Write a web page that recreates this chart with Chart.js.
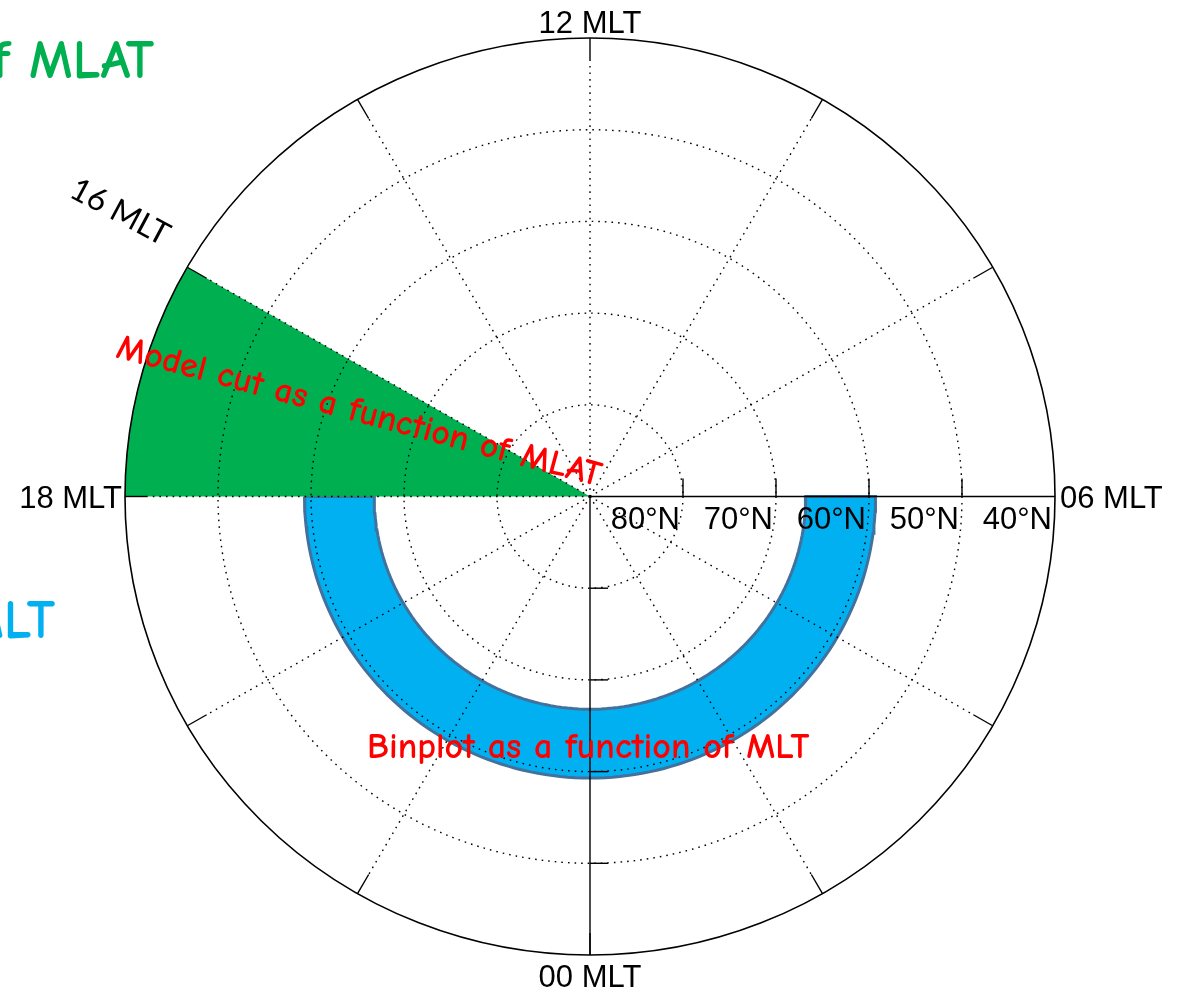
<!DOCTYPE html>
<html>
<head>
<meta charset="utf-8">
<script src="https://cdn.jsdelivr.net/npm/chart.js@4.4.1/dist/chart.umd.min.js"></script>
<style>
  html, body { margin: 0; background: #fff; }
  canvas { display: block; }
</style>
</head>
<body>
<canvas id="polar-chart" width="1182" height="994"></canvas>
<script>
// MLT / MLAT grid
const latRings = [80, 70, 60, 50, 40];
const latLabels = ['80°N', '70°N', '60°N', '50°N', '40°N'];
const spokeHours = [0, 2, 4, 8, 10, 12, 14, 16, 18, 20, 22];
const axisHours = [6, 0];   // solid axes carrying the latitude ticks

// green sector: model cut at 16-18 MLT, pole to 40N
const modelCutMLT = [16, 18];
const modelCutLat = [40, 90];
// blue band: binplot from 18 MLT through midnight to 06 MLT
const binplotMLT = [18, 30];
const binplotLat = [59.3, 66.8];

const outerColat = 90 - latRings[latRings.length - 1];
const sans = '"Liberation Sans", Arial, Helvetica, sans-serif';
const comic = '"Comic Sans MS", "Comic Neue", Lato, sans-serif';

// mlt 06 points right, 12 up
function toXY(mlt, lat) {
  const a = (mlt - 6) * Math.PI / 12;
  const r = 90 - lat;
  return { x: r * Math.cos(a), y: r * Math.sin(a) };
}

// closed outline of an MLT x MLAT sector, arcs sampled along MLT
function sectorOutline(mlts, lats) {
  const pts = [];
  const steps = 120;
  for (let i = 0; i <= steps; i++) {
    pts.push(toXY(mlts[0] + (mlts[1] - mlts[0]) * i / steps, lats[0]));
  }
  if (lats[1] >= 90) {
    pts.push({ x: 0, y: 0 });
  } else {
    for (let i = steps; i >= 0; i--) {
      pts.push(toXY(mlts[0] + (mlts[1] - mlts[0]) * i / steps, lats[1]));
    }
  }
  pts.push(pts[0]);
  return pts;
}

function fitFont(ctx, text, width, family, weight) {
  const w8 = weight ? weight + ' ' : '';
  ctx.font = w8 + '100px ' + family;
  const w = ctx.measureText(text).width;
  return w8 + (100 * width / w).toFixed(1) + 'px ' + family;
}

const polarGrid = {
  id: 'polarGrid',
  afterDatasetsDraw(chart) {
    const ctx = chart.ctx;
    const xs = chart.scales.x, ys = chart.scales.y;
    const P = (mlt, colat) => {
      const a = (mlt - 6) * Math.PI / 12;
      return [xs.getPixelForValue(colat * Math.cos(a)), ys.getPixelForValue(colat * Math.sin(a))];
    };
    const cx = xs.getPixelForValue(0), cy = ys.getPixelForValue(0);
    const rx = c => xs.getPixelForValue(c) - cx;
    const ry = c => cy - ys.getPixelForValue(c);
    const seg = (a, b) => { ctx.beginPath(); ctx.moveTo(a[0], a[1]); ctx.lineTo(b[0], b[1]); ctx.stroke(); };

    ctx.save();
    ctx.strokeStyle = '#000';

    // dotted latitude circles
    ctx.lineWidth = 1.4;
    ctx.setLineDash([1.6, 5]);
    latRings.slice(0, -1).forEach(lat => {
      const c = 90 - lat;
      ctx.beginPath();
      ctx.ellipse(cx, cy, rx(c), ry(c), 0, 0, Math.PI * 2);
      ctx.stroke();
    });

    // dotted MLT spokes, solid stub at the rim
    const stub = 2.4;
    spokeHours.forEach(h => {
      ctx.setLineDash([1.6, 5]);
      if (h !== 0) seg(P(h, 0), P(h, outerColat - stub));
      ctx.setLineDash([]);
      seg(P(h, outerColat - stub), P(h, outerColat));
    });

    // solid axes with latitude ticks
    ctx.setLineDash([]);
    ctx.lineWidth = 1.4;
    axisHours.forEach(h => {
      seg(P(h, 0), P(h, outerColat));
      latRings.slice(0, -1).forEach(lat => {
        const [px, py] = P(h, 90 - lat);
        if (h === 6) seg([px, py], [px, py - 18]);
        else seg([px, py], [px + 18, py]);
      });
    });

    // rim
    ctx.lineWidth = 1.6;
    ctx.beginPath();
    ctx.ellipse(cx, cy, rx(outerColat), ry(outerColat), 0, 0, Math.PI * 2);
    ctx.stroke();
    ctx.restore();
  },
  afterDraw(chart) {
    const ctx = chart.ctx;
    const xs = chart.scales.x, ys = chart.scales.y;
    const cx = xs.getPixelForValue(0), cy = ys.getPixelForValue(0);
    const top = ys.getPixelForValue(outerColat), bottom = ys.getPixelForValue(-outerColat);
    const left = xs.getPixelForValue(-outerColat), right = xs.getPixelForValue(outerColat);

    ctx.save();
    ctx.fillStyle = '#000';
    ctx.font = '31px ' + sans;
    ctx.textBaseline = 'alphabetic';
    ctx.textAlign = 'center';
    ctx.fillText('12 MLT', cx, top - 5);
    ctx.fillText('00 MLT', cx, bottom + 32);
    ctx.textAlign = 'left';
    ctx.fillText('06 MLT', right + 5, cy + 11);
    ctx.textAlign = 'right';
    ctx.fillText('18 MLT', left - 3, cy + 11);

    // latitude labels along the 06 MLT axis
    latRings.forEach((lat, i) => {
      ctx.fillText(latLabels[i], xs.getPixelForValue(90 - lat) - 3, cy + 32);
    });

    // 16 MLT label, set along its spoke
    ctx.save();
    ctx.translate(120, 212);
    ctx.rotate(28 * Math.PI / 180);
    ctx.textAlign = 'center';
    ctx.textBaseline = 'middle';
    ctx.font = '32px Lato, "Open Sans", sans-serif';
    ctx.fillText('16 MLT', 0, 0);
    ctx.restore();

    // annotations
    ctx.fillStyle = '#FF0000';
    const t1 = 'Binplot as a function of MLT';
    ctx.font = fitFont(ctx, t1, 442, comic, 'bold');
    ctx.textAlign = 'left';
    ctx.fillText(t1, 367, 758);

    const t2 = 'Model cut as a function of MLAT';
    ctx.save();
    ctx.translate(359, 412);
    ctx.rotate(15 * Math.PI / 180);
    ctx.font = fitFont(ctx, t2, 500, comic, 'bold');
    ctx.textAlign = 'center';
    ctx.textBaseline = 'middle';
    ctx.fillText(t2, 0, 0);
    ctx.restore();

    // captions running off the left edge
    ctx.textAlign = 'right';
    ctx.fillStyle = '#00B050';
    ctx.font = fitFont(ctx, 'MLAT', 125, comic, 'bold');
    ctx.fillText('Cut as a function of MLAT', 154, 78);
    ctx.fillStyle = '#00B0F0';
    ctx.font = fitFont(ctx, 'MLAT', 125, comic, 'bold');
    ctx.fillText('Binned as a function of MLT', 55, 638);
    ctx.restore();
  }
};

new Chart(document.getElementById('polar-chart'), {
  type: 'scatter',
  data: {
    datasets: [
      {
        label: 'Model cut',
        data: sectorOutline(modelCutMLT, modelCutLat),
        showLine: true,
        fill: 'shape',
        backgroundColor: '#00B050',
        borderColor: '#00B050',
        borderWidth: 0,
        pointRadius: 0,
        tension: 0
      },
      {
        label: 'Binplot',
        data: sectorOutline(binplotMLT, binplotLat),
        showLine: true,
        fill: 'shape',
        backgroundColor: '#00B0F0',
        borderColor: '#41719C',
        borderWidth: 3,
        pointRadius: 0,
        tension: 0
      }
    ]
  },
  options: {
    responsive: false,
    animation: false,
    events: [],
    layout: { padding: { left: 125, right: 127, top: 38, bottom: 39 } },
    scales: {
      x: { type: 'linear', min: -outerColat, max: outerColat, display: false },
      y: { type: 'linear', min: -outerColat, max: outerColat, display: false }
    },
    plugins: {
      legend: { display: false },
      tooltip: { enabled: false }
    }
  },
  plugins: [polarGrid]
});
</script>
</body>
</html>
